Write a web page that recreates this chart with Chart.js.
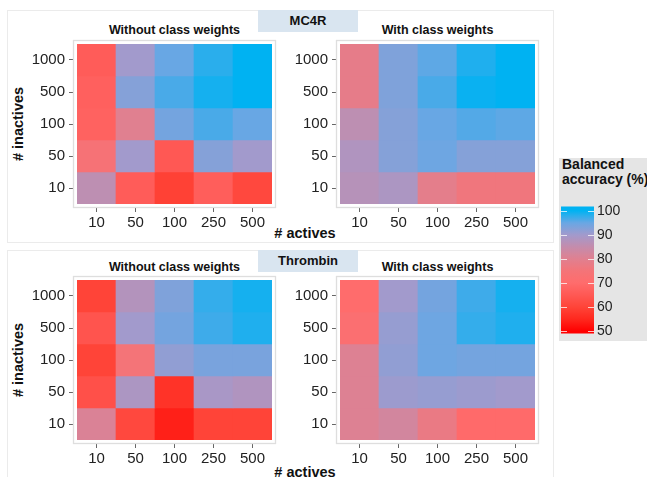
<!DOCTYPE html>
<html>
<head>
<meta charset="utf-8">
<script src="https://cdn.jsdelivr.net/npm/chart.js@4.4.1/dist/chart.umd.min.js"></script>
<style>
  body { margin: 0; background: #fff; }
  #wrap { position: relative; width: 647px; height: 477px; overflow: hidden;
          font-family: "Liberation Sans", Arial, sans-serif; color: #111; }
  .panel { position: absolute; border: 1.5px solid #ebebeb; box-sizing: border-box; }
  .strip { position: absolute; background: #d9e5f0; font-weight: bold; font-size: 13px;
           text-align: center; height: 22px; line-height: 22px; width: 100px; }
  .ttl { position: absolute; font-weight: bold; font-size: 12.5px; line-height: 16px;
         white-space: nowrap; transform: translateX(-50%); }
  .axt { position: absolute; font-weight: bold; font-size: 14.5px; line-height: 16px;
         white-space: nowrap; transform: translateX(-50%); }
  .axy { position: absolute; font-weight: bold; font-size: 14.5px; line-height: 16px;
         white-space: nowrap; transform: translate(-50%, -50%) rotate(-90deg); }
  .legbox { position: absolute; left: 559px; top: 158px; width: 100px; height: 183px; background: #e5e5e5; }
  .legttl { position: absolute; left: 562px; top: 157px; font-weight: bold; font-size: 14px;
            line-height: 15px; white-space: nowrap; }
  canvas { position: absolute; }
</style>
</head>
<body>
<div id="wrap">
  <div class="panel" style="left:7px;top:10px;width:547px;height:233px;"></div>
  <div class="panel" style="left:7px;top:250px;width:547px;height:240px;"></div>

  <div class="strip" style="left:258px;top:10px;">MC4R</div>
  <div class="strip" style="left:258px;top:250px;">Thrombin</div>

  <div class="ttl" style="left:174.5px;top:22px;">Without class weights</div>
  <div class="ttl" style="left:437.5px;top:22px;">With class weights</div>
  <div class="ttl" style="left:174.5px;top:259px;">Without class weights</div>
  <div class="ttl" style="left:437.5px;top:259px;">With class weights</div>

  <div class="axt" style="left:305px;top:225px;"># actives</div>
  <div class="axt" style="left:305px;top:464px;"># actives</div>
  <div class="axy" style="left:18px;top:124px;"># inactives</div>
  <div class="axy" style="left:18px;top:360px;"># inactives</div>

  <div class="legbox"></div>
  <div class="legttl">Balanced<br>accuracy (%)</div>

  <canvas id="mc4rWithout" width="290" height="210" style="left:0px;top:30px;"></canvas>
  <canvas id="mc4rWith" width="270" height="210" style="left:290px;top:30px;"></canvas>
  <canvas id="thrWithout" width="290" height="210" style="left:0px;top:266px;"></canvas>
  <canvas id="thrWith" width="270" height="210" style="left:290px;top:266px;"></canvas>
  <canvas id="legend" width="92" height="150" style="left:555px;top:195px;"></canvas>
</div>

<script>
// Axis categories
const actives = ['10', '50', '100', '250', '500'];
const inactives = ['1000', '500', '100', '50', '10'];   // rows, top to bottom

// Balanced accuracy (%) per cell: rows follow `inactives`, columns follow `actives`
const mc4rWithout = [
  [66, 90, 95, 98, 100],
  [67, 92.5, 96.5, 99, 100],
  [67.5, 80, 94, 96.5, 95],
  [74, 90, 65, 92.5, 90],
  [86, 66, 59.5, 66.5, 61]
];
const mc4rWith = [
  [78.5, 93, 95.5, 98.5, 100],
  [78.5, 93, 96.5, 99.5, 100],
  [86, 92.5, 95, 96, 95.5],
  [88, 92.5, 94.5, 92.5, 92.5],
  [87, 88.5, 79, 76, 76]
];
const thrombinWithout = [
  [60, 87.5, 93, 97.5, 99],
  [64, 90, 94, 97, 98.5],
  [60, 75, 91.5, 93.5, 93.5],
  [63, 88.5, 57, 89, 88],
  [81, 61, 54, 60, 60]
];
const thrombinWith = [
  [70, 90, 94, 97, 99],
  [72, 91, 94.5, 97.5, 98.5],
  [80.5, 91.5, 94.5, 94, 94],
  [80.5, 90.5, 91, 90.5, 90],
  [80.5, 82.5, 77.5, 69.5, 69.5]
];

// Colour scale for the fill
const scaleValues = [50, 55, 60, 65, 70, 75, 80, 85, 90, 95, 100];
const scaleColors = [
  [255, 0, 0], [255, 40, 30], [255, 68, 56], [255, 88, 84], [255, 108, 108],
  [244, 116, 120], [224, 128, 144], [196, 140, 172], [162, 154, 204],
  [104, 167, 228], [0, 178, 242]
];
const legendTicks = [50, 60, 70, 80, 90, 100];
const legendLow = 49;
const legendHigh = 101.8;

function colorFor(v) {
  const x = Math.max(scaleValues[0], Math.min(scaleValues[scaleValues.length - 1], v));
  let i = 0;
  while (i < scaleValues.length - 2 && x > scaleValues[i + 1]) i++;
  const t = (x - scaleValues[i]) / (scaleValues[i + 1] - scaleValues[i]);
  const a = scaleColors[i], b = scaleColors[i + 1];
  const c = a.map((av, k) => Math.round(av + (b[k] - av) * t));
  return `rgb(${c[0]},${c[1]},${c[2]})`;
}

const tickFont = { family: '"Liberation Sans", Arial, sans-serif', size: 15 };
const tickColor = '#222';

// white margin + light frame around the tile area
const framePlugin = {
  id: 'frame',
  afterDraw(chart) {
    const { ctx, chartArea: a } = chart;
    ctx.save();
    ctx.strokeStyle = '#ffffff';
    ctx.lineWidth = 3;
    ctx.strokeRect(a.left - 1.5, a.top - 1.5, a.right - a.left + 3, a.bottom - a.top + 3);
    ctx.strokeStyle = '#dedede';
    ctx.lineWidth = 1.3;
    ctx.strokeRect(a.left - 3.5, a.top - 3.5, a.right - a.left + 7, a.bottom - a.top + 7);
    ctx.restore();
  }
};

function heatmap(id, values, yAxisWidth, padRight) {
  const nRows = inactives.length;
  const datasets = values.map((rowVals, i) => {
    const r = nRows - 1 - i;
    return {
      data: rowVals.map(() => [r, r + 1]),
      backgroundColor: rowVals.map(colorFor),
      borderWidth: 0,
      barPercentage: 1,
      categoryPercentage: 1,
      grouped: false
    };
  });
  return new Chart(document.getElementById(id), {
    type: 'bar',
    data: { labels: actives, datasets },
    plugins: [framePlugin],
    options: {
      responsive: false,
      animation: false,
      devicePixelRatio: 1,
      layout: { padding: { left: 0, top: 14, right: padRight, bottom: 6 } },
      plugins: { legend: { display: false }, tooltip: { enabled: false } },
      scales: {
        x: {
          type: 'category',
          offset: true,
          grid: { offset: false, drawOnChartArea: false, drawTicks: true, tickLength: 8, color: '#666', lineWidth: 1 },
          border: { display: false },
          ticks: { font: tickFont, color: tickColor, padding: 2, maxRotation: 0, autoSkip: false },
          afterFit: s => { s.height = 30; }
        },
        y: {
          type: 'linear',
          min: 0,
          max: nRows,
          grid: { drawOnChartArea: false, drawTicks: true, tickLength: 8, color: '#666', lineWidth: 1 },
          border: { display: false },
          afterBuildTicks: s => { s.ticks = inactives.map((_, i) => ({ value: nRows - 1 - i + 0.5 })); },
          ticks: {
            font: tickFont, color: tickColor, padding: 4, autoSkip: false,
            callback: v => inactives[nRows - 1 - Math.floor(v)]
          },
          afterFit: s => { s.width = yAxisWidth; }
        }
      }
    }
  });
}

heatmap('mc4rWithout', mc4rWithout, 77, 18);
heatmap('mc4rWith', mc4rWith, 50, 25);
heatmap('thrWithout', thrombinWithout, 77, 18);
heatmap('thrWith', thrombinWith, 50, 25);

// Colour bar
const barTicksPlugin = {
  id: 'barTicks',
  afterDatasetsDraw(chart) {
    const { ctx, chartArea: a, scales: { y } } = chart;
    ctx.save();
    ctx.strokeStyle = 'rgba(255,255,255,0.75)';
    ctx.lineWidth = 1;
    legendTicks.forEach(v => {
      const py = Math.round(y.getPixelForValue(v)) + 0.5;
      ctx.beginPath();
      ctx.moveTo(a.left, py); ctx.lineTo(a.left + 6, py);
      ctx.moveTo(a.right - 6, py); ctx.lineTo(a.right, py);
      ctx.stroke();
    });
    ctx.restore();
  }
};

new Chart(document.getElementById('legend'), {
  type: 'bar',
  data: {
    labels: [''],
    datasets: [{
      data: [[legendLow, legendHigh]],
      borderWidth: 0,
      barPercentage: 1,
      categoryPercentage: 1,
      backgroundColor: c => {
        const chart = c.chart;
        if (!chart.chartArea) return '#ccc';
        const y = chart.scales.y;
        const y0 = y.getPixelForValue(legendLow), y1 = y.getPixelForValue(legendHigh);
        const g = chart.ctx.createLinearGradient(0, y0, 0, y1);
        for (let v = legendLow; v <= legendHigh + 1e-9; v += 0.5) {
          g.addColorStop(Math.min(1, (v - legendLow) / (legendHigh - legendLow)), colorFor(v));
        }
        return g;
      }
    }]
  },
  plugins: [barTicksPlugin],
  options: {
    responsive: false,
    animation: false,
    devicePixelRatio: 1,
    layout: { padding: { left: 6, top: 7, right: 3, bottom: 10 } },
    plugins: { legend: { display: false }, tooltip: { enabled: false } },
    scales: {
      x: { type: 'category', display: false, offset: true },
      y: {
        type: 'linear',
        position: 'right',
        min: legendLow,
        max: legendHigh,
        grid: { display: false, drawTicks: false },
        border: { display: false },
        afterBuildTicks: s => { s.ticks = legendTicks.map(v => ({ value: v })); },
        ticks: { font: { family: '"Liberation Sans", Arial, sans-serif', size: 14 }, color: tickColor, padding: 3 },
        afterFit: s => { s.width = 50; }
      }
    }
  }
});
</script>
</body>
</html>
